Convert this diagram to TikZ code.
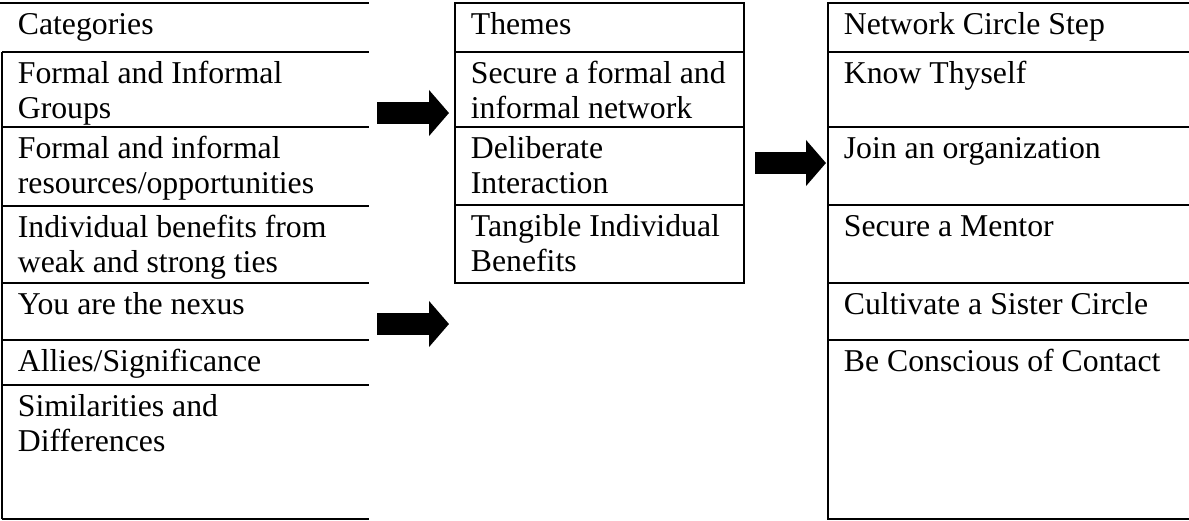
\documentclass[tikz,border=0pt]{standalone}
\usepackage{fontspec}
\setmainfont{Liberation Serif}
\usetikzlibrary{arrows.meta}

\begin{document}
\begin{tikzpicture}[x=0.4pt,y=-0.4pt,line width=0.7pt]
        \tikzstyle{cell}=[anchor=base west,inner sep=0pt,align=left,font=\fontsize{12.7}{14}\selectfont]
        \tikzstyle{bigarrow}=[line width=8.6pt,-{Triangle[length=8pt,width=18pt]}]
        \useasboundingbox (0,0) rectangle (1189,521);
        % categories column (two-line cells sit on their last baseline)
        \draw (0,3) -- (369,3);
        \draw (2,52) -- (2,519);
        \foreach \y in {52,127,206,283,340,385,519} \draw (2,\y) -- (369,\y);
        \node[cell] (cat0) at (17,34) {Categories};
        \node[cell] (cat1) at (17,118) {Formal and Informal\\Groups};
        \node[cell] (cat2) at (17,193) {Formal and informal\\resources/opportunities};
        \node[cell] (cat3) at (17,272) {Individual benefits from\\weak and strong ties};
        \node[cell] (cat4) at (17,314) {You are the nexus};
        \node[cell] (cat5) at (17,371) {Allies/Significance};
        \node[cell] (cat6) at (17,451) {Similarities and\\Differences};
        % themes column
        \draw (455,3) rectangle (744,283);
        \foreach \y in {52,127,205} \draw (455,\y) -- (744,\y);
        \node[cell] (thm0) at (470,34) {Themes};
        \node[cell] (thm1) at (470,118) {Secure a formal and\\informal network};
        \node[cell] (thm2) at (470,193) {Deliberate\\Interaction};
        \node[cell] (thm3) at (470,271) {Tangible Individual\\Benefits};
        % network circle steps column
        \draw (1189,3) -- (828,3) -- (828,519) -- (1189,519);
        \foreach \y in {52,127,205,283,340} \draw (828,\y) -- (1189,\y);
        \node[cell] (ncs0) at (843,34) {Network Circle Step};
        \node[cell] (ncs1) at (843,83) {Know Thyself};
        \node[cell] (ncs2) at (843,158) {Join an organization};
        \node[cell] (ncs3) at (843,236) {Secure a Mentor};
        \node[cell] (ncs4) at (843,314) {Cultivate a Sister Circle};
        \node[cell] (ncs5) at (843,371) {Be Conscious of Contact};
        % arrows
        \coordinate (a1s) at (377,113);
        \coordinate (a1e) at (449,113);
        \coordinate (a2s) at (377,324);
        \coordinate (a2e) at (449,324);
        \coordinate (a3s) at (755,163);
        \coordinate (a3e) at (826,163);
        \draw[bigarrow] (a1s) -- (a1e);
        \draw[bigarrow] (a2s) -- (a2e);
        \draw[bigarrow] (a3s) -- (a3e);
\end{tikzpicture}
\end{document}
